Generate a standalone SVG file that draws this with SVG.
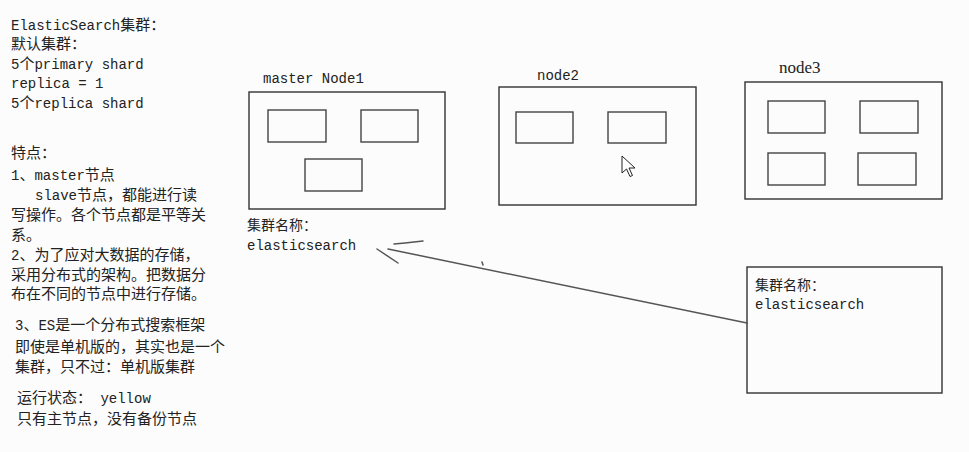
<svg xmlns="http://www.w3.org/2000/svg" width="969" height="452" viewBox="0 0 969 452">
<style>
text{font-family:"Liberation Mono","Noto Sans CJK SC",monospace;font-size:14px;fill:#222}
.c{font-family:"Noto Sans CJK SC",sans-serif;font-size:15px}
.c14{font-family:"Noto Sans CJK SC",sans-serif;font-size:14px}
.box{fill:none;stroke:#333;stroke-width:1.4}
.shard{fill:none;stroke:#444;stroke-width:1.4}
.con{fill:none;stroke:#555;stroke-width:1.5;stroke-linecap:round}
.ser{font-family:"Liberation Serif",serif;font-size:17px}
</style>
<rect width="969" height="452" fill="#fcfcfc"/>
<g id="notes">
<text x="11" y="30">ElasticSearch<tspan class="c">集群：</tspan></text>
<text x="11" y="49"><tspan class="c">默认集群：</tspan></text>
<text x="11" y="69">5<tspan class="c">个</tspan>primary shard</text>
<text x="11" y="88">replica = 1</text>
<text x="11" y="108">5<tspan class="c">个</tspan>replica shard</text>
<text x="11" y="158"><tspan class="c">特点：</tspan></text>
<text x="11" y="180">1<tspan class="c">、</tspan>master<tspan class="c">节点</tspan></text>
<text x="35" y="200">slave<tspan class="c">节点，都能进行读</tspan></text>
<text x="11" y="220" class="c">写操作。各个节点都是平等关</text>
<text x="11" y="240" class="c">系。</text>
<text x="11" y="260">2<tspan class="c">、为了应对大数据的存储，</tspan></text>
<text x="11" y="280" class="c">采用分布式的架构。把数据分</text>
<text x="11" y="299" class="c">布在不同的节点中进行存储。</text>
<text x="15" y="330">3<tspan class="c">、</tspan>ES<tspan class="c">是一个分布式搜索框架</tspan></text>
<text x="15" y="352" class="c">即使是单机版的，其实也是一个</text>
<text x="15" y="372" class="c">集群，只不过：单机版集群</text>
<text x="17" y="403"><tspan class="c">运行状态：</tspan> yellow</text>
<text x="17" y="424" class="c">只有主节点，没有备份节点</text>
</g>
<g id="master-node1">
<text x="263" y="83">master Node1</text>
<rect class="box" x="249" y="92" width="196" height="117"/>
<rect class="shard" x="268" y="110" width="58" height="32"/>
<rect class="shard" x="361" y="110" width="57" height="32"/>
<rect class="shard" x="305" y="159" width="57" height="32"/>
<text x="247" y="230" class="c14">集群名称：</text>
<text x="247" y="250">elasticsearch</text>
</g>
<g id="node2">
<text x="537" y="80">node2</text>
<rect class="box" x="499" y="87" width="197" height="118"/>
<rect class="shard" x="516" y="112" width="57" height="31"/>
<rect class="shard" x="608" y="112" width="58" height="31"/>
</g>
<g id="node3">
<text x="779" y="73" class="ser">node3</text>
<rect class="box" x="745" y="82" width="197" height="117"/>
<rect class="shard" x="768" y="101" width="57" height="32"/>
<rect class="shard" x="860" y="101" width="58" height="32"/>
<rect class="shard" x="768" y="153" width="57" height="32"/>
<rect class="shard" x="858" y="153" width="58" height="32"/>
</g>
<g id="cluster-name-box">
<rect class="box" x="747" y="267" width="195" height="126"/>
<text x="755" y="290" class="c14">集群名称：</text>
<text x="755" y="309">elasticsearch</text>
</g>
<g id="connectors">
<line class="con" x1="388" y1="249" x2="747" y2="323"/>
<line class="con" x1="377" y1="249" x2="398" y2="263" stroke="#777"/>
<path class="con" d="M394 244 L405 243 L423 241" stroke="#111"/>
<line class="con" x1="482" y1="262" x2="483" y2="265" stroke-width="1"/>
</g>
<g id="cursor">
<path d="M622 156 L622 173 L626.5 169 L630 176.5 L632.5 175.5 L629 168 L635 168 Z" fill="#fff" stroke="#222" stroke-width="1" stroke-linejoin="round"/>
</g>
</svg>
